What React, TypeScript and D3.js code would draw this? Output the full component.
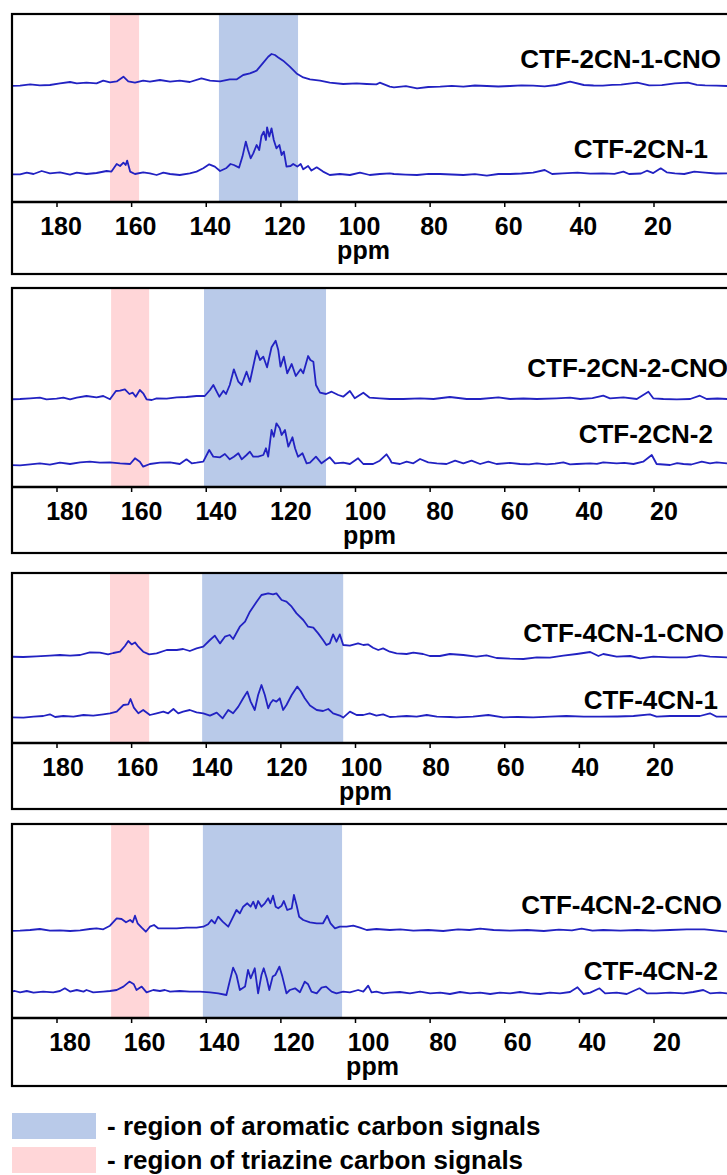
import { useEffect, useRef } from "react"
import * as d3 from "d3"

// tick values on every ppm axis
const tickValues = [180, 160, 140, 120, 100, 80, 60, 40, 20]

// shaded regions for each panel, [from, to] in ppm
const triazineBands = [[165.8, 158.0], [165.5, 155.3], [165.8, 155.3], [165.5, 155.3]]
const aromaticBands = [[136.6, 115.4], [140.6, 107.9], [141.1, 103.3], [140.9, 103.6]]

const legendItems = ["- region of aromatic carbon signals", "- region of triazine carbon signals"]

// spectra: [ppm, intensity]
const ctf2cn1Cno = [
  [192.6, 0.7], [189.9, 1.0], [187.2, 2.3], [184.6, 1.3], [181.9, 1.7], [179.2, 3.3], [176.5, 4.7], [174.7, 3.3],
  [172.1, 4.0], [169.4, 3.3], [167.6, 6.0], [165.8, 4.3], [164.0, 5.3], [162.2, 10.0], [160.9, 5.3], [159.1, 4.0],
  [156.9, 6.0], [155.1, 5.0], [152.4, 6.7], [149.7, 5.0], [147.1, 6.0], [144.4, 4.7], [141.3, 8.3], [139.0, 6.0],
  [136.3, 5.3], [133.7, 7.3], [131.9, 7.3], [130.1, 11.7], [128.3, 13.3], [126.5, 16.0], [124.7, 24.0], [123.4, 30.0],
  [122.5, 32.7], [121.6, 31.7], [120.7, 29.3], [119.4, 26.0], [117.6, 20.0], [115.8, 13.3], [114.0, 9.3], [112.2, 7.3],
  [109.5, 6.0], [106.9, 4.0], [103.3, 2.7], [99.7, 3.3], [97.0, 2.7], [94.4, 2.3], [93.5, 4.0], [90.8, 0],
  [89.7, -0.6], [86.5, 0.5], [83.5, -1.6], [80.5, -0.3], [77.3, 0], [74.2, 0.8], [71.1, 0], [68.0, 1.2],
  [64.8, 0.7], [61.7, 0.2], [58.6, 0.7], [55.5, 1.3], [52.4, 1.0], [49.3, 0.4], [46.2, 1.7], [42.5, 5.0],
  [38.8, 1.7], [36.2, 1.2], [33.7, 1.0], [31.2, 1.8], [28.8, 2.0], [24.5, 4.0], [21.3, 1.3], [17.9, 1.6],
  [14.4, 3.3], [10.9, 4.0], [8.5, 1.9], [6.3, 1.3], [3.2, 1.0], [0.4, 0.7]
]

const ctf2cn1 = [
  [192.6, 0], [189.9, 0], [188.1, 1.7], [186.3, 0.3], [184.1, 3.3], [181.9, 1.0], [179.2, 2.0], [176.5, -0.3],
  [174.7, 1.7], [172.1, 0.3], [169.4, 1.3], [166.7, 3.3], [165.4, 2.7], [164.0, 10.3], [163.1, 8.3], [162.2, 11.7],
  [161.6, 9.3], [161.2, 13.7], [160.4, 2.7], [159.1, 0.3], [156.9, 2.0], [155.1, 1.0], [153.3, -0.7], [151.5, 1.7],
  [149.7, 0.3], [147.1, -0.7], [144.4, 1.0], [142.6, 2.7], [140.8, 6.0], [139.2, 10.0], [137.7, 7.7], [136.3, 3.3],
  [134.7, 6.0], [133.5, 10.3], [132.6, 9.3], [131.2, 6.7], [130.3, 17.7], [129.4, 32.7], [128.8, 24.3], [128.1, 16.0],
  [127.4, 21.0], [126.5, 29.3], [125.8, 24.3], [125.2, 38.3], [124.6, 42.7], [124.0, 34.3], [123.7, 47.0], [123.1, 37.7],
  [122.5, 46.0], [121.9, 34.3], [121.2, 26.0], [120.4, 29.3], [119.8, 19.3], [119.2, 22.7], [118.5, 7.7], [117.4, 8.3],
  [116.7, 10.3], [115.6, 7.7], [114.7, 10.3], [114.0, 5.0], [112.7, 8.3], [111.8, 3.7], [110.4, 7.0], [108.7, 2.7],
  [106.9, -0.7], [104.2, 0.3], [101.5, -0.7], [98.8, 1.7], [96.2, -0.7], [93.5, 0.3], [90.8, 1.0], [89.7, 0.3],
  [86.6, -0.3], [83.5, -0.7], [80.4, 0.5], [77.3, 0.3], [74.2, -0.2], [71.1, -0.7], [68.0, 0.2], [64.8, -1.3],
  [61.7, 0.3], [58.6, 0.3], [55.5, 0.8], [52.4, 1.6], [49.3, 4.3], [47.3, 0.3], [44.5, 0.9], [40.5, 1.6],
  [37.1, 0.6], [33.7, 1.0], [30.6, 0.4], [28.2, 2.6], [26.7, 0.3], [23.5, 0.8], [21.9, 3.6], [20.2, 1.2],
  [18.2, 6.0], [16.6, 2.0], [14.4, 1.0], [11.9, 0.3], [9.2, 2.6], [6.3, 1.6], [3.4, 0.8], [0.4, 1.0]
]

const ctf2cn2Cno = [
  [192.6, -0.3], [189.9, 0], [187.2, 0.7], [184.6, 1.3], [182.8, -0.3], [180.1, 0.3], [178.3, 1.3], [176.5, -0.3],
  [174.7, 1.3], [172.1, 3.0], [169.4, 1.7], [167.6, 3.0], [165.8, -0.3], [164.2, 8.0], [163.1, 8.3], [161.8, 9.7],
  [160.6, 5.0], [159.7, 6.3], [158.9, 2.3], [157.8, 9.0], [156.9, 5.7], [156.0, -0.3], [154.6, -1.0], [153.3, 0.7],
  [150.6, 0.3], [147.9, 1.7], [145.3, 2.0], [142.6, 3.0], [140.4, 3.0], [139.0, 9.0], [138.1, 14.0], [137.2, 7.3],
  [136.5, 2.3], [135.4, 8.3], [134.7, 5.0], [133.7, 14.0], [132.6, 29.7], [131.4, 17.3], [130.5, 14.0], [129.2, 27.3],
  [128.3, 17.3], [126.5, 48.3], [125.6, 39.0], [124.7, 42.3], [123.7, 31.7], [122.5, 51.7], [121.4, 58.3], [120.7, 49.0],
  [120.1, 32.3], [119.2, 42.3], [118.3, 25.7], [117.1, 35.0], [116.0, 23.0], [114.7, 29.7], [114.0, 25.7], [112.7, 43.0],
  [112.1, 39.0], [111.3, 37.3], [110.6, 14.0], [109.5, 6.3], [107.9, 5.0], [106.4, 7.3], [104.6, 4.0], [103.3, 2.3],
  [101.5, 8.0], [100.2, 0.7], [97.9, 6.3], [96.2, 1.3], [93.5, 0.7], [90.8, 0], [87.2, 0], [82.7, 0.7],
  [79.1, 0], [74.7, 2.0], [70.2, 0], [66.6, 0], [61.7, 1.7], [58.6, 0], [55.0, 0.5], [51.4, 0],
  [46.1, 0.7], [42.5, 1.3], [39.8, 0], [36.5, 0.8], [33.6, 3.3], [31.8, 0.7], [28.2, 1.7], [24.6, 0],
  [21.5, 7.3], [20.2, 0.7], [17.5, 0], [13.9, -0.3], [10.3, 0], [7.7, 3.3], [5.9, 0], [3.0, 0.5], [0.4, 0]
]

const ctf2cn2 = [
  [192.6, 0], [189.9, -0.3], [187.2, 0.7], [184.6, 1.7], [181.9, 0.3], [179.2, 2.3], [176.5, 1.0], [173.8, 2.7],
  [171.2, 3.3], [168.5, 2.3], [165.8, 2.7], [163.1, 1.7], [160.4, 1.0], [159.1, 6.7], [157.8, 3.3], [156.9, -1.7],
  [155.1, 1.0], [152.4, 2.3], [149.7, 2.7], [147.1, 1.0], [145.3, 5.7], [143.9, 1.7], [142.6, 2.3], [140.8, 3.3],
  [139.2, 15.0], [138.1, 8.3], [136.3, 7.7], [135.0, 11.0], [133.7, 5.7], [132.6, 8.3], [131.4, 11.7], [130.5, 5.7],
  [129.2, 10.0], [128.3, 13.3], [127.4, 8.3], [126.1, 8.3], [124.7, 10.0], [124.0, 16.7], [123.4, 8.3], [122.5, 35.0],
  [121.9, 28.3], [121.2, 41.7], [120.3, 36.7], [119.8, 30.0], [118.9, 35.0], [118.0, 18.3], [116.9, 27.7], [116.2, 16.7],
  [115.4, 8.3], [114.2, 11.7], [113.1, 1.7], [112.2, 2.3], [110.6, 8.3], [109.1, 1.7], [106.9, 7.7], [105.5, 1.7],
  [103.3, 2.3], [101.5, 1.0], [99.3, 6.7], [97.9, 1.0], [95.3, 1.0], [93.5, 4.3], [91.7, 10.7], [90.8, 5.7],
  [90.3, 2.3], [88.1, 1.0], [86.3, 3.3], [84.5, 1.7], [82.7, 6.0], [80.5, 2.7], [78.2, 1.7], [75.6, 1.0],
  [73.3, 4.3], [71.1, 1.7], [68.9, 4.3], [66.6, 1.0], [64.4, 3.3], [62.2, 1.0], [58.6, 2.2], [55.9, 1.0],
  [53.5, 0.6], [51.4, 1.7], [48.8, 0.7], [46.5, 1.4], [44.3, 2.7], [42.5, 0.6], [40.7, 1.0], [37.1, 1.7],
  [35.3, 1.2], [33.6, 2.7], [30.0, 1.7], [28.0, 2.2], [25.5, 1.0], [22.9, 3.3], [20.6, 10.0], [19.3, 1.0],
  [15.7, 0], [13.8, 1.9], [12.1, 1.0], [10.0, 0.5], [7.2, 3.3], [5.0, 1.7], [3.2, 2.7], [0.4, 1.7]
]

const ctf4cn1Cno = [
  [192.6, 0], [189.0, -0.3], [185.5, 0.3], [181.9, 1.0], [179.2, 1.7], [176.5, 1.0], [173.8, 1.7], [171.2, 4.3],
  [168.5, 4.0], [166.3, 2.3], [164.9, 3.7], [163.1, 5.0], [161.8, 10.7], [160.9, 15.7], [160.0, 12.3], [159.1, 14.3],
  [158.2, 10.0], [156.9, 5.0], [155.3, 2.3], [153.3, 3.3], [150.6, 6.7], [147.9, 6.7], [146.2, 7.7], [144.4, 5.7],
  [142.6, 8.3], [140.8, 10.0], [139.0, 16.7], [137.7, 21.0], [136.3, 13.3], [135.0, 20.0], [133.7, 21.7], [132.8, 17.7],
  [131.0, 30.0], [129.6, 35.0], [128.3, 45.0], [126.5, 55.0], [125.2, 61.7], [123.4, 63.3], [122.1, 62.3], [121.2, 63.3],
  [119.8, 56.7], [118.5, 55.0], [117.1, 50.0], [115.8, 43.3], [114.0, 36.7], [112.7, 30.0], [111.3, 29.0], [110.0, 23.3],
  [108.7, 16.7], [107.8, 11.7], [106.9, 13.3], [106.0, 22.3], [105.1, 15.0], [104.2, 22.3], [103.3, 11.7], [101.5, 11.0],
  [99.3, 13.3], [97.9, 11.7], [96.6, 12.3], [95.3, 9.0], [93.9, 6.7], [92.6, 8.3], [90.8, 5.0], [89.0, 3.4],
  [86.3, 2.7], [84.5, 4.0], [81.9, 2.7], [80.1, 0.7], [77.4, 0.7], [74.7, 2.7], [71.1, 1.7], [67.6, 0],
  [64.9, 1.4], [62.2, -1.3], [58.6, -2.0], [55.0, -2.3], [51.4, -0.6], [47.9, -1.0], [44.3, 1.0], [40.7, 2.7],
  [37.1, 4.7], [34.9, 0.7], [33.6, 2.7], [30.0, 0], [26.4, 0.7], [23.7, -1.6], [20.2, 0], [15.7, -0.6],
  [11.2, -0.6], [7.7, 1.4], [5.0, 0], [0.4, -0.6]
]

const ctf4cn1 = [
  [192.6, 0], [189.0, -0.3], [186.3, 0.7], [183.7, 1.3], [181.9, 3.0], [180.5, 0.3], [178.3, 1.3], [175.6, 0.7],
  [172.9, 2.3], [170.3, 1.7], [167.6, 3.0], [165.8, 4.0], [164.0, 5.7], [162.2, 12.3], [160.9, 13.0], [160.3, 18.3],
  [159.4, 9.7], [158.2, 4.0], [156.9, 7.3], [155.1, 2.3], [153.3, 4.0], [151.5, 5.7], [150.2, 4.0], [148.8, 8.3],
  [147.5, 4.0], [146.2, 5.7], [144.4, 7.3], [142.6, 5.0], [140.8, 4.0], [139.0, 1.7], [137.2, 4.7], [135.6, -1.0],
  [134.1, 7.3], [132.8, 4.0], [131.4, 10.7], [130.1, 19.0], [129.0, 25.7], [128.1, 15.7], [127.0, 7.3], [126.1, 22.3],
  [125.2, 32.3], [124.3, 22.3], [123.4, 9.0], [122.8, 14.0], [122.1, 17.3], [121.2, 15.7], [120.3, 19.0], [119.4, 7.3],
  [118.5, 12.3], [117.1, 22.3], [115.6, 30.7], [114.7, 26.3], [113.6, 19.0], [112.2, 11.7], [110.4, 7.3], [108.7, 6.3],
  [107.3, 8.3], [106.0, 4.0], [104.2, 1.7], [103.3, -0.3], [101.5, 5.7], [99.7, 2.3], [97.9, 2.3], [96.2, 4.0],
  [94.4, 1.7], [92.6, 3.0], [90.8, 0.3], [89.0, 0.6], [86.3, 1.3], [83.6, 0.6], [80.9, 2.3], [78.2, 0.6],
  [74.7, 0.3], [72.9, -0.1], [68.5, 0.6], [64.4, 2.3], [60.4, 0], [56.5, 0.3], [52.4, 0], [47.9, 0.6],
  [43.5, 1.3], [38.8, 0.6], [34.5, 0.6], [29.9, 0.8], [25.5, 1.3], [21.1, 3.0], [19.3, 0.6], [15.7, 1.3],
  [11.2, 1.3], [7.7, 1.3], [5.0, 4.0], [3.2, 0.6], [0.4, 0.6]
]

const ctf4cn2Cno = [
  [192.6, -1.0], [189.9, -0.7], [187.2, 0], [184.6, 1.0], [181.9, -0.7], [179.2, -0.3], [176.5, -1.0], [173.8, -0.3],
  [171.2, 1.0], [169.4, 1.7], [167.6, 0.7], [165.8, 4.3], [164.0, 11.7], [162.7, 11.0], [161.5, 7.7], [160.4, 10.0],
  [159.7, 7.7], [159.1, 14.3], [158.4, 6.7], [157.3, 2.3], [156.2, -1.7], [155.1, 3.3], [154.0, 5.0], [152.9, 1.7],
  [150.6, 1.7], [147.9, 1.7], [145.3, 2.3], [142.6, 2.3], [140.8, 3.3], [139.5, 5.7], [138.6, 10.0], [137.7, 6.7],
  [136.8, 13.3], [135.6, 8.3], [134.1, 3.3], [133.0, 11.7], [131.9, 20.0], [131.0, 16.7], [130.1, 23.3], [129.0, 26.7],
  [128.1, 23.3], [127.4, 28.3], [126.7, 21.7], [126.1, 29.0], [125.2, 23.3], [124.3, 26.7], [123.4, 31.7], [122.8, 26.7],
  [122.1, 34.3], [121.4, 23.3], [120.7, 21.7], [119.8, 24.3], [119.2, 29.0], [118.3, 20.0], [117.1, 21.7], [116.5, 35.0],
  [115.8, 25.0], [115.1, 13.3], [114.0, 10.0], [112.2, 7.7], [110.4, 6.7], [108.7, 6.7], [107.6, 14.3], [106.7, 6.7],
  [105.5, 1.7], [104.2, 3.3], [102.4, 3.3], [100.6, 4.3], [98.8, 2.3], [97.0, 0], [94.4, 1.0], [90.8, 0],
  [88.0, 0.7], [84.5, -0.7], [80.5, 0], [76.5, -1.0], [72.5, 0.7], [69.5, 0], [66.6, 1.3], [63.0, 0],
  [58.6, -0.7], [54.0, 0], [49.5, -1.0], [45.5, 0.3], [42.0, -0.3], [39.4, 1.3], [36.5, -0.7], [33.6, 0],
  [29.0, -0.7], [24.5, 0], [20.2, -0.7], [15.7, 0], [11.2, 0.7], [6.5, 0.7], [0.4, -1.7]
]

const ctf4cn2 = [
  [192.6, 0.7], [191.3, 1.3], [189.9, 0], [188.1, 1.3], [186.3, -0.3], [183.7, 0.7], [181.0, 0], [179.2, 1.3],
  [177.9, 4.0], [176.5, 0.7], [174.7, 2.3], [172.9, 0.7], [172.1, 2.3], [170.3, 0], [167.6, 0.7], [165.8, 1.3],
  [164.0, 2.3], [162.2, 5.7], [160.6, 10.7], [159.4, 8.0], [158.7, 2.3], [157.3, 5.7], [156.0, 0], [154.2, 2.3],
  [152.4, 1.3], [151.1, 2.3], [149.7, 0.7], [147.1, 1.3], [144.4, 0.7], [141.7, 0.7], [139.0, 0], [136.8, -1.0],
  [134.6, -2.7], [133.7, 11.3], [132.8, 24.7], [131.9, 17.3], [131.0, 2.3], [129.6, 5.7], [128.8, 22.3], [128.1, 14.0],
  [127.0, 24.0], [126.1, -1.0], [125.2, 17.3], [124.6, 24.0], [123.8, 14.0], [123.1, 2.3], [122.2, 15.7], [121.5, 17.3],
  [120.4, 25.7], [119.6, 15.7], [118.5, -1.0], [117.6, 2.3], [116.2, 4.0], [114.9, 0], [113.6, 10.7], [112.7, 8.0],
  [111.8, 0.7], [110.4, -1.0], [109.1, 4.7], [107.9, 5.7], [106.4, 0.7], [105.1, -1.0], [103.3, 0.7], [101.5, 0],
  [99.3, 2.3], [97.9, 0.7], [96.6, 6.7], [95.7, 0], [94.4, 0.7], [92.6, -1.0], [90.8, -0.3], [88.1, 0.3],
  [85.4, -1.0], [82.7, 0.7], [80.0, -1.0], [77.3, -0.3], [74.7, -1.7], [72.0, 0.3], [69.3, -1.0], [66.6, -0.3],
  [63.9, -1.7], [61.3, -0.3], [58.6, -1.0], [55.9, 0.3], [53.2, -1.0], [50.5, -1.7], [47.9, -0.3], [45.2, -1.0],
  [42.5, 0.3], [40.5, 5.0], [38.9, -1.7], [37.1, -0.3], [34.6, 4.0], [33.1, -1.0], [30.0, -0.3], [27.3, -1.7],
  [23.9, 4.0], [21.9, -1.0], [19.3, -1.0], [15.7, -0.3], [12.1, -1.0], [9.5, 0.3], [6.8, 2.3], [5.0, -1.0],
  [2.3, -0.3], [0.4, -1.0]
]

// layout of the four stacked panels (pixels) and the spectra in each
const panels = [
  { top: 14, axis: 202, bottom: 274, labelDx: 4, traces: [
    { name: "CTF-2CN-1-CNO", data: ctf2cn1Cno, offset: 115.3, lx: 721, ly: 68 },
    { name: "CTF-2CN-1", data: ctf2cn1, offset: 27.7, lx: 708, ly: 158 }
  ] },
  { top: 288, axis: 487, bottom: 553, labelDx: 10, traces: [
    { name: "CTF-2CN-2-CNO", data: ctf2cn2Cno, offset: 88, lx: 728, ly: 377 },
    { name: "CTF-2CN-2", data: ctf2cn2, offset: 22, lx: 713, ly: 443 }
  ] },
  { top: 573, axis: 743, bottom: 809, labelDx: 6, traces: [
    { name: "CTF-4CN-1-CNO", data: ctf4cn1Cno, offset: 86.3, lx: 724, ly: 642 },
    { name: "CTF-4CN-1", data: ctf4cn1, offset: 25.7, lx: 718, ly: 709 }
  ] },
  { top: 824, axis: 1018, bottom: 1086, labelDx: 13, traces: [
    { name: "CTF-4CN-2-CNO", data: ctf4cn2Cno, offset: 88, lx: 722, ly: 914 },
    { name: "CTF-4CN-2", data: ctf4cn2, offset: 25.7, lx: 718, ly: 980 }
  ] }
]

const W = 727
const H = 1175
const LEFT = 12
const FONT = "'Liberation Sans', Arial, sans-serif"
const LINE = "#2222c2"
const BLUE = "#b9cae9"
const PINK = "#ffd6d8"

const App = () => {
  const svgRef = useRef<SVGSVGElement>(null)

  useEffect(() => {
    const svg = d3.select(svgRef.current)
    svg.selectAll("*").remove()

    // ppm axis runs right to left, same for all panels
    const x = d3.scaleLinear().domain([180, 20]).range([57, 654])

    panels.forEach((p, i) => {
      const g = svg.append("g")
      const y = d3.scaleLinear().domain([0, p.axis - p.top]).range([p.axis, p.top])

      g.append("clipPath")
        .attr("id", `clip${i}`)
        .append("rect")
        .attr("x", LEFT)
        .attr("y", p.top)
        .attr("width", W)
        .attr("height", p.axis - p.top)

      //shaded regions
      const bands = [[triazineBands[i], PINK], [aromaticBands[i], BLUE]] as const
      bands.forEach(([b, color]) => {
        g.append("rect")
          .attr("x", x(b[0]))
          .attr("width", x(b[1]) - x(b[0]))
          .attr("y", p.top)
          .attr("height", p.axis - p.top)
          .attr("fill", color)
      })

      //spectra
      p.traces.forEach(t => {
        const line = d3.line<number[]>()
          .x(d => x(d[0]))
          .y(d => y(d[1] + t.offset))

        g.append("path")
          .datum(t.data)
          .attr("clip-path", `url(#clip${i})`)
          .attr("fill", "none")
          .attr("stroke", LINE)
          .attr("stroke-width", 1.8)
          .attr("stroke-linejoin", "round")
          .attr("d", line)

        g.append("text")
          .attr("x", t.lx)
          .attr("y", t.ly)
          .attr("text-anchor", "end")
          .style("font-family", FONT)
          .style("font-weight", "bold")
          .style("font-size", "26px")
          .text(t.name)
      })

      //panel frame and axis line
      g.append("rect")
        .attr("x", LEFT)
        .attr("y", p.top)
        .attr("width", W + 20)
        .attr("height", p.bottom - p.top)
        .attr("fill", "none")
        .attr("stroke", "#000")
        .attr("stroke-width", 2.2)

      g.append("line")
        .attr("x1", LEFT)
        .attr("x2", W + 10)
        .attr("y1", p.axis)
        .attr("y2", p.axis)
        .attr("stroke", "#000")
        .attr("stroke-width", 2.6)

      const ticks = g.selectAll(".tick")
        .data(tickValues)
        .enter()
        .append("g")
        .attr("transform", d => `translate(${x(d)}, ${p.axis})`)

      ticks.append("line")
        .attr("y1", 0)
        .attr("y2", 5)
        .attr("stroke", "#000")
        .attr("stroke-width", 1.5)

      ticks.append("text")
        .attr("x", p.labelDx)
        .attr("y", 33)
        .attr("text-anchor", "middle")
        .style("font-family", FONT)
        .style("font-weight", "bold")
        .style("font-size", "25px")
        .text(d => d)

      g.append("text")
        .attr("x", x(100) + p.labelDx + 4)
        .attr("y", p.axis + 57)
        .attr("text-anchor", "middle")
        .style("font-family", FONT)
        .style("font-weight", "bold")
        .style("font-size", "25px")
        .text("ppm")
    })

    //legend
    const legend = svg.selectAll(".legend")
      .data(legendItems)
      .enter()
      .append("g")
      .attr("transform", (d, i) => `translate(${LEFT}, ${1113 + i * 34})`)

    legend.append("rect")
      .attr("width", 84)
      .attr("height", 26)
      .attr("fill", (d, i) => (i === 0 ? BLUE : PINK))

    legend.append("text")
      .attr("x", 95)
      .attr("y", 22)
      .style("font-family", FONT)
      .style("font-weight", "bold")
      .style("font-size", "26px")
      .text(d => d)
  }, [])

  return (
    <svg
      ref={svgRef}
      width={W}
      height={H}
      style={{ position: "absolute", left: 0, top: 0, background: "#fff" }}
    />
  )
}

export default App
